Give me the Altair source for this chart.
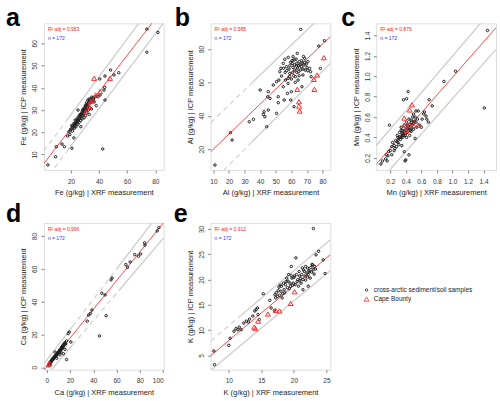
import altair as alt
import pandas as pd

GROUPS = ["cross-arctic sediment/soil samples", "Cape Bounty"]

# ---------------- Panel a : Fe ----------------
a_bx = [3.5, 9, 9.5, 13.6, 15.3, 20.7, 42.6, 17.6, 18.5, 19.2, 20, 20.5, 21, 21.5, 22, 22.3, 22.8, 23, 23.5, 24,
        24.2, 24.8, 25, 25.3, 25.8, 26, 26.4, 26.8, 27, 27.5, 27.8, 28, 28.3, 28.8, 29, 29.3, 29.6, 30, 30.2, 30.5,
        30.8, 31, 31.3, 31.6, 32, 32.3, 32.6, 33, 33.4, 34, 34.5, 35, 22, 27, 25, 33, 36, 37.5, 39.3, 40.7,
        43.5, 44, 40.5, 44.2, 48.2, 50.6, 54, 44.2, 74, 74, 81.9, 38, 36.5,
        19.5, 21.2, 22.6, 23.8, 24.5, 25.6, 26.6, 27.3, 28.1, 28.6, 29.4, 29.9, 30.6, 31.2, 31.8, 32.8, 33.8, 35.5, 23.2, 26.2,
        28.4, 30.4, 31.5, 33.1, 34.8]
a_by = [5.3, 9, 13.5, 14.7, 13.5, 12.8, 12.5, 18.3, 20.2, 19, 21.5, 23, 20.5, 22, 24, 21.8, 23, 25.5, 22.5, 24,
        26, 23.5, 25, 27, 24.5, 26, 28, 25.3, 27, 28.5, 26, 29.5, 27.5, 30.5, 28.5, 26.5, 31, 29.5, 32, 27.5,
        30.5, 33.2, 29, 31.5, 34.5, 30, 32.5, 35, 31, 33.5, 30.5, 34, 17.5, 22.5, 30, 28, 35, 36, 36, 36.8,
        39, 40.2, 44, 45.3, 48, 45.8, 46.8, 34.5, 56, 66.4, 64.9, 32, 33.8,
        21, 22.8, 23.6, 24.8, 25.5, 25.9, 27.2, 28, 28.8, 28.2, 29.8, 30.2, 31, 31.9, 32.7, 33.6, 34.6, 35.4, 24.2, 27.4,
        30, 31.8, 30.8, 34.1, 35.8]
a_rx = [36.5, 47.8, 40.7, 37.6, 34.1, 32.9, 30.6, 35.5]
a_ry = [44.3, 44.3, 38.3, 36.8, 33.8, 31.6, 29.2, 34.2]

# ---------------- Panel b : Al ----------------
b_bx = [11, 20.9, 22, 33, 35.7, 40, 42, 43, 42.5, 45.2, 44.2, 44.8, 45.2, 46.3, 48.4, 50.5, 51.6, 51.6, 52, 50.5,
        52.6, 53.3, 53.7, 54.8, 55.8, 56.9, 56.2, 55.4, 57.9, 59, 59.6, 60, 60.5, 61.1, 61.7, 62.2, 62.6, 63.2, 63.8, 64.3,
        64.7, 65.1, 66, 66.4, 66.8, 67.4, 68.1, 68.5, 68.9, 61.7, 57.5, 70.6, 71.7, 72.3, 72.7, 77.6, 78.6, 81.2, 54.8, 57.9,
        58.5, 59.5, 60.8, 62, 63, 64, 65.5, 66.5, 67.5, 69.5, 70, 58, 56, 60, 62.5, 65,
        55, 57, 59, 61, 63.5, 64.5, 66, 67, 68.5, 70.5, 61.5, 63.5, 60.5, 58.8, 67.8]
b_by = [10.4, 29.8, 25.4, 36.4, 37.8, 55.4, 40.8, 39.4, 42.4, 43.4, 33.4, 51.4, 54.4, 50.4, 58.4, 41.4, 51.4, 47.8, 61.4, 60.4,
        66.4, 68.4, 63.8, 71.4, 73.8, 69.4, 61.4, 49.4, 62.4, 65.4, 49.4, 54.4, 71.4, 75.4, 73.4, 67.4, 63.4, 69.8, 77.4, 61.4,
        66.4, 72.4, 91.8, 69.4, 57.4, 64.4, 70.4, 74.4, 67.4, 45.4, 53.4, 72.4, 68.4, 66.4, 63.4, 81.8, 68.4, 85, 57.4, 59.4,
        68, 72, 66, 70.5, 74, 68.5, 70.5, 73, 68, 71, 69, 75, 66, 62, 60, 64,
        68.5, 67, 70, 69, 71.5, 70, 67.5, 71.5, 72, 67, 64, 66, 73, 63.5, 75.5]
b_rx = [63.8, 64.9, 64.9, 65.3, 74.4, 74.8, 76.5, 80.8]
b_ry = [55.8, 48.4, 45.8, 42.8, 61.8, 55.8, 64.4, 74.8]

# ---------------- Panel c : Mn ----------------
c_bx = [0.08, 0.10, 0.14, 0.15, 0.17, 0.16, 0.18, 0.20, 0.19, 0.22, 0.23, 0.25, 0.27, 0.29, 0.30, 0.31, 0.32, 0.34, 0.34, 0.35,
        0.36, 0.37, 0.37, 0.38, 0.38, 0.39, 0.39, 0.40, 0.41, 0.41, 0.42, 0.42, 0.43, 0.44, 0.45, 0.46, 0.46, 0.47, 0.48, 0.49,
        0.50, 0.50, 0.53, 0.53, 0.55, 0.56, 0.58, 0.60, 0.61, 0.63, 0.64, 0.66, 0.67, 0.69, 0.70, 0.74, 0.52, 0.44, 0.40, 0.89,
        1.04, 1.41, 1.45, 0.22, 0.25, 0.28, 0.33, 0.36, 0.43, 0.47, 0.51, 0.54, 0.31, 0.26,
        0.30, 0.33, 0.35, 0.38, 0.40, 0.42, 0.44, 0.45, 0.48, 0.50, 0.36, 0.39, 0.43, 0.47, 0.52, 0.29, 0.34, 0.41]
c_by = [0.14, 0.17, 0.19, 0.23, 0.22, 0.17, 0.26, 0.27, 0.52, 0.31, 0.35, 0.32, 0.37, 0.42, 0.35, 0.39, 0.45, 0.40, 0.50, 0.32,
        0.47, 0.42, 0.77, 0.52, 0.26, 0.17, 0.44, 0.48, 0.55, 0.78, 0.45, 0.52, 0.85, 0.58, 0.42, 0.50, 0.47, 0.55, 0.52, 0.60,
        0.48, 0.63, 0.55, 0.66, 0.58, 0.66, 0.52, 0.50, 0.58, 0.63, 0.65, 0.61, 0.58, 0.55, 0.77, 0.71, 0.39, 0.23, 0.18, 0.95,
        1.05, 0.69, 1.45, 0.23, 0.27, 0.31, 0.38, 0.43, 0.49, 0.46, 0.56, 0.50, 0.33, 0.29,
        0.40, 0.41, 0.44, 0.46, 0.44, 0.49, 0.47, 0.53, 0.49, 0.54, 0.40, 0.42, 0.51, 0.57, 0.60, 0.36, 0.47, 0.40]
c_rx = [0.38, 0.45, 0.48, 0.41, 0.45, 0.50, 0.56, 0.38]
c_ry = [0.59, 0.67, 0.72, 0.47, 0.52, 0.52, 0.52, 0.52]

# ---------------- Panel d : Ca ----------------
d_bx = [1.4, 2.3, 2.8, 3.7, 4.2, 4.8, 5.7, 6.2, 7.1, 7.6, 8.5, 9.3, 9.9, 10.5, 11.3, 12.2, 12.7, 13.6, 14.2, 15,
        15.6, 17, 18.4, 19.3, 20.7, 17, 8.5, 11.3, 14.2, 7.1, 15.6, 12.2, 3, 5, 6.5, 9, 10, 11, 13, 16,
        34.8, 36, 37.4, 38.8, 45.3, 47.3, 50.1, 51, 55.2, 56.1, 68, 69.4, 71.7, 75.6, 78.8, 80.7, 84.1, 84.4, 94.9, 96.3,
        1.8, 2.5, 3.3, 4, 4.6, 5.2, 5.9, 6.7, 7.3, 8, 8.8, 9.6, 10.2, 10.8, 11.8, 12.5, 13.2, 13.9, 14.7, 16.2,
        2.0, 3.6, 5.4, 6.9, 8.2, 9.1, 10.7, 12.0, 13.4]
d_by = [1.0, 2.1, 3.1, 3.5, 4.1, 5.1, 5.5, 6.2, 6.8, 7.2, 7.6, 8.8, 9.2, 9.6, 10.3, 11.3, 12.3, 12.9, 13.7, 14.4,
        15, 16, 20.5, 21.5, 15.4, 4.7, 5.5, 7.6, 8.2, 9.2, 10.9, 9.2, 2.5, 4.5, 5.8, 8, 8.5, 10.5, 11.5, 14,
        28.1, 31.8, 32.8, 34.9, 19.1, 45.1, 44.1, 31.4, 53.3, 54.4, 62.6, 60.9, 64.2, 68.7, 67.7, 69.1, 75.9, 74.5, 83.1, 85.1,
        2.0, 2.6, 3.3, 3.9, 4.4, 4.8, 5.4, 6.1, 6.6, 7.3, 7.9, 8.6, 9.0, 9.9, 10.6, 11.0, 11.8, 12.4, 13.1, 14.3,
        1.5, 3.0, 4.9, 6.4, 7.0, 8.2, 9.3, 10.7, 12.0]
d_rx = [1.5, 2.4]
d_ry = [1.6, 2.3]

# ---------------- Panel e : K ----------------
e_bx = [7.7, 7.8, 10, 10.2, 10.8, 11.1, 11.4, 11.6, 11.9, 12.3, 12.7, 13, 13.2, 13.7, 14, 14.2, 14.4, 14.5, 14.7, 15.3,
        16.3, 16.5, 17, 17.1, 17.2, 17.3, 17.5, 17.6, 17.7, 17.8, 18, 18.1, 18.2, 18.4, 18.5, 18.6, 18.7, 18.9, 19, 19.1,
        19.2, 19.4, 19.5, 19.6, 19.7, 19.9, 20.1, 20.2, 20.3, 20.4, 20.6, 20.7, 20.8, 20.9, 21.1, 21.2, 21.3, 21.4, 21.6, 21.7,
        21.8, 22, 22.1, 22.2, 22.3, 22.5, 22.6, 22.7, 22.8, 23, 23.1, 23.2, 23, 23.4, 23.8, 24.5, 24.8, 22.2, 21.4,
        19.3, 19.8, 20.5, 21, 21.5, 22.4, 22.9, 20, 21.8, 18.8, 19.6, 20.9, 22.1, 23.3, 17.9, 18.3]
e_by = [5.9, 3.2, 7, 8.4, 9.8, 10.3, 10.1, 10.6, 10.1, 11.4, 11.8, 11.6, 12.2, 12.8, 13.8, 14.1, 14.4, 13.1, 12.1, 17.2,
        15.9, 14.4, 13.9, 17, 16.4, 17.4, 16.7, 17.8, 18.5, 16.9, 17.7, 18.7, 16.4, 19.3, 18, 17.4, 19, 20.3, 18.4, 19.7,
        21, 19.3, 18.7, 22.6, 20.3, 19.3, 20.7, 19, 24.3, 21, 20, 18.7, 21.6, 20.7, 19.3, 21, 22.3, 20, 21.6, 20.7,
        22.6, 21.3, 22.3, 21, 21.8, 20.3, 22.4, 21.5, 23, 22, 21.1, 22.6, 30.1, 24.9, 25.6, 23.9, 21.2, 18.7, 18,
        18.2, 18.9, 19.6, 20.2, 21.9, 21.6, 22.9, 20.4, 19.9, 19.6, 20.8, 19.8, 20.5, 22.1, 18.9, 17.2]
e_rx = [13.9, 14.1, 14.5, 16, 17.2, 17.8, 19.5, 20.1]
e_ry = [10.6, 10.3, 11.8, 13.2, 13.9, 13.8, 15.3, 17.6]

PANELS = [
    dict(letter="a", ldx=-38, ldy=3, xt="Fe (g/kg) | XRF measurement", yt="Fe (g/kg) | ICP measurement",
         xd=[0.7, 86], yd=[3, 69], xv=[20, 40, 60, 80], yv=[10, 20, 30, 40, 50, 60], fmt="d",
         bx=a_bx, by=a_by, rx=a_rx, ry=a_ry, r2="0.953",
         red=(5.4, 0.82), up=(11.0, 0.85), lo=(-2.9, 0.84), dup=[(-10, 17)], dlo=[(-10, 17)]),
    dict(letter="b", ldx=-36, ldy=3, xt="Al (g/kg) | XRF measurement", yt="Al (g/kg) | ICP measurement",
         xd=[8.2, 85], yd=[7.4, 95.4], xv=[10, 20, 30, 40, 50, 60, 70, 80], yv=[20, 40, 60, 80], fmt="d",
         bx=b_bx, by=b_by, rx=b_rx, ry=b_ry, r2="0.585",
         red=(11.0, 0.9), up=(28.4, 0.9), lo=(-8.3, 0.9375), dup=[(0, 35)], dlo=[(0, 35)]),
    dict(letter="c", ldx=-35, ldy=3, xt="Mn (g/kg) | XRF measurement", yt="Mn (g/kg) | ICP measurement",
         xd=[0.02, 1.56], yd=[0.08, 1.52], xv=[0.2, 0.4, 0.6, 0.8, 1.0, 1.2, 1.4], yv=[0.2, 0.4, 0.6, 0.8, 1.0, 1.2, 1.4], fmt=".1f",
         bx=c_bx, by=c_by, rx=c_rx, ry=c_ry, r2="0.876",
         red=(0.12, 0.87), up=(0.303, 0.895), lo=(-0.085, 0.865), dup=[], dlo=[(0, 0.2)]),
    dict(letter="d", ldx=-38, ldy=-1, xt="Ca (g/kg) | XRF measurement", yt="Ca (g/kg) | ICP measurement",
         xd=[-2.5, 100.5], yd=[-1.5, 88], xv=[0, 20, 40, 60, 80, 100], yv=[0, 20, 40, 60, 80], fmt="d",
         bx=d_bx, by=d_by, rx=d_rx, ry=d_ry, r2="0.996",
         red=(0.3, 0.875), up=(4.4, 0.925), lo=(-4.9, 0.834), dup=[(22, 62)], dlo=[(22, 62)]),
    dict(letter="e", ldx=-37, ldy=-1, xt="K (g/kg) | XRF measurement", yt="K (g/kg) | ICP measurement",
         xd=[7.2, 25.6], yd=[2.2, 31.2], xv=[10, 15, 20, 25], yv=[5, 10, 15, 20, 25, 30], fmt="d",
         bx=e_bx, by=e_by, rx=e_rx, ry=e_ry, r2="0.912",
         red=(-2.9, 1.087), up=(0.0, 1.089), lo=(-5.7, 1.075), dup=[(0, 12)], dlo=[]),
]

FONT = "Liberation Sans"


def line_rows(name, coef, dashes, xd):
    a, b = coef
    pts = {xd[0], xd[1]}
    for d0, d1 in dashes:
        for v in (d0, d1):
            if xd[0] < v < xd[1]:
                pts.add(v)
    pts = sorted(pts)
    rows = []
    for i in range(len(pts) - 1):
        x0, x1 = pts[i], pts[i + 1]
        mid = (x0 + x1) / 2
        dashed = any(d0 <= mid <= d1 for d0, d1 in dashes)
        for xx in (x0, x1):
            rows.append(dict(x=xx, y=a + b * xx, seg=f"{name}{i}", dashed=dashed))
    return rows


def make_panel(p):
    xs = alt.Scale(domain=p["xd"], nice=False, zero=False)
    ys = alt.Scale(domain=p["yd"], nice=False, zero=False)
    common = dict(grid=False, domain=False, tickSize=3, tickColor="#555", tickWidth=0.7,
                  labelFontSize=6.5, labelColor="#333", labelFont=FONT,
                  titleFontSize=7.5, titleColor="#222", titleFont=FONT, titleFontWeight="normal",
                  format=p["fmt"])
    xax = alt.Axis(values=p["xv"], labelPadding=5, titlePadding=4, labelOverlap=False, **common)
    yax = alt.Axis(values=p["yv"], labelAngle=-90, labelAlign="center", labelBaseline="bottom",
                   labelPadding=3, titlePadding=4, labelOverlap=False, **common)
    X = alt.X("x:Q", scale=xs, axis=xax, title=p["xt"])
    Y = alt.Y("y:Q", scale=ys, axis=yax, title=p["yt"])

    gl = pd.DataFrame(line_rows("u", p["up"], p["dup"], p["xd"]) + line_rows("l", p["lo"], p["dlo"], p["xd"]))
    rl = pd.DataFrame(line_rows("r", p["red"], [], p["xd"]))

    gray_solid = alt.Chart(gl[~gl["dashed"]]).mark_line(color="#cdcdcd", strokeWidth=1.3, clip=True).encode(
        x=X, y=Y, detail="seg:N")
    gray_dash = alt.Chart(gl[gl["dashed"]]).mark_line(color="#d4d4d4", strokeWidth=1.3, strokeDash=[5, 4], clip=True).encode(
        x=X, y=Y, detail="seg:N")
    red = alt.Chart(rl).mark_line(color="#ff1a1a", strokeWidth=0.8, clip=True).encode(x=X, y=Y, detail="seg:N")

    pts = pd.DataFrame(
        [dict(x=x, y=y, grp=GROUPS[0]) for x, y in zip(p["bx"], p["by"])]
        + [dict(x=x, y=y, grp=GROUPS[1]) for x, y in zip(p["rx"], p["ry"])]
    )
    leg = alt.Legend(title=None, orient="none", legendX=320, legendY=264, labelFontSize=6.5,
                     labelFont=FONT, labelColor="#222", symbolStrokeWidth=0.8, rowPadding=1,
                     labelOffset=4, padding=0)
    points = alt.Chart(pts).mark_point(filled=False, strokeWidth=1.0, opacity=1).encode(
        x=X, y=Y,
        color=alt.Color("grp:N", scale=alt.Scale(domain=GROUPS, range=["#1e1e1e", "#ff2a2a"]), legend=leg),
        shape=alt.Shape("grp:N", scale=alt.Scale(domain=GROUPS, range=["circle", "triangle-up"]), legend=leg),
        size=alt.Size("grp:N", scale=alt.Scale(domain=GROUPS, range=[6, 24]), legend=leg),
    )

    one = pd.DataFrame({"k": [0]})
    r2 = alt.Chart(one).mark_text(align="left", baseline="middle", fontSize=5, color="#ff2020", font=FONT).encode(
        x=alt.value(4), y=alt.value(6), text=alt.value("R² adj = " + p["r2"]))
    nn = alt.Chart(one).mark_text(align="left", baseline="middle", fontSize=5, color="#3333ff", font=FONT).encode(
        x=alt.value(4), y=alt.value(15), text=alt.value("n = 172"))
    letter = alt.Chart(one).mark_text(align="left", baseline="alphabetic", fontSize=25, fontWeight="bold",
                                      color="black", font=FONT).encode(
        x=alt.value(p["ldx"]), y=alt.value(p["ldy"]), text=alt.value(p["letter"]))

    return alt.layer(gray_dash, gray_solid, red, points, r2, nn, letter).properties(width=120, height=147)


pa, pb, pc, pd_, pe = [make_panel(p) for p in PANELS]

top = alt.hconcat(pa, pb, pc, spacing=9)
bottom = alt.hconcat(pd_, pe, spacing=8)
chart = alt.vconcat(top, bottom, spacing=4).properties(
    padding={"left": 5, "top": 5, "right": 3, "bottom": 3}
).configure_view(stroke="#444", strokeWidth=0.8).configure(font=FONT, background="white")

chart.save("out.html", embed_options={"renderer": "svg", "actions": False})
